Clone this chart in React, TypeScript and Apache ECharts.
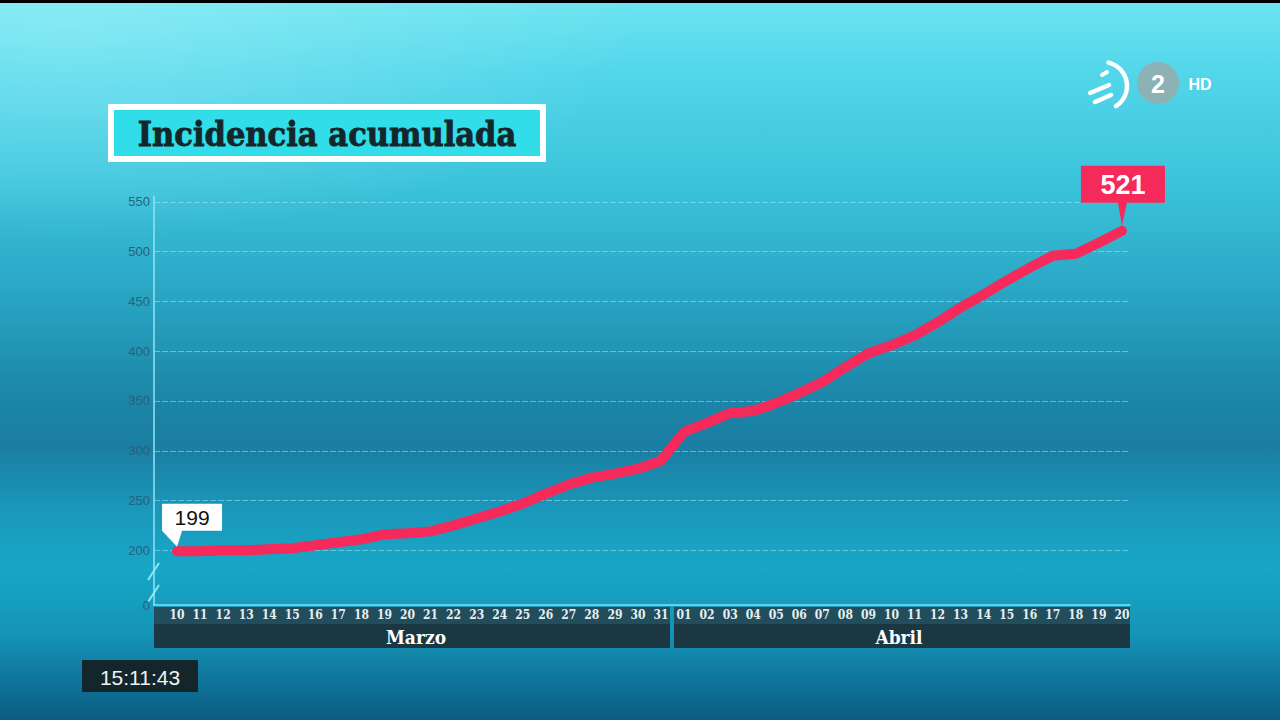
import React, { useEffect, useRef } from 'react';
import * as echarts from 'echarts';

// ---- data ----
const title = 'Incidencia acumulada';
const months = ['Marzo', 'Abril'];
const marzoDays = ['10', '11', '12', '13', '14', '15', '16', '17', '18', '19', '20', '21', '22', '23', '24', '25', '26', '27', '28', '29', '30', '31'];
const abrilDays = ['01', '02', '03', '04', '05', '06', '07', '08', '09', '10', '11', '12', '13', '14', '15', '16', '17', '18', '19', '20'];
const marzoValues = [199, 199, 200, 200, 201, 202, 205, 208, 211, 216, 217, 219, 225, 232, 239, 247, 257, 266, 273, 277, 282, 290];
const abrilValues = [319, 328, 338, 340, 348, 358, 369, 384, 398, 406, 416, 429, 444, 457, 471, 484, 496, 498, 509, 521];
const yTickValues = [200, 250, 300, 350, 400, 450, 500, 550];
const yZeroLabel = '0';
const clockText = '15:11:43';

// broken axis: the bottom of the plot stands for 0
const AXIS_FLOOR = 145;
const AXIS_TOP = 556;

const days = [...marzoDays, ...abrilDays];
const values = [...marzoValues, ...abrilValues];
const lineData = values.map((v, i) => [i, v]);
const lastIdx = values.length - 1;

const RED = '#f5295a';
const SLAB = '"DejaVu Serif Condensed", "DejaVu Serif"';

export default function App() {
  const ref = useRef<HTMLDivElement>(null);

  useEffect(() => {
    document.body.style.margin = '0';
    const chart = echarts.init(ref.current!, undefined, { renderer: 'svg' });

    const callout199 = 'path://M0,0 L60,0 L60,27 L20,27 L15,43 L0,27 Z';
    const callout521 = 'path://M0,0 L84,0 L84,37 L46,37 L41,60 L37,37 L0,37 Z';

    chart.setOption({
      animation: false,
      backgroundColor: 'transparent',
      grid: { left: 154, right: 150, top: 196, bottom: 115 },
      xAxis: {
        type: 'value',
        min: -1,
        max: lastIdx + 0.35,
        interval: 1,
        z: 5,
        axisLine: { show: true, onZero: false, lineStyle: { color: '#86e2f0', width: 1.5 } },
        axisTick: { show: false },
        splitLine: { show: false },
        axisLabel: {
          margin: 4,
          color: '#e6f0f2',
          fontSize: 12,
          fontWeight: 'bold',
          fontFamily: SLAB,
          showMinLabel: false,
          showMaxLabel: false,
          formatter: (v: number) => (Number.isInteger(v) && v >= 0 && v <= lastIdx ? days[v] : ''),
        },
      },
      yAxis: {
        type: 'value',
        min: AXIS_FLOOR,
        max: AXIS_TOP,
        axisLine: { show: true, onZero: false, lineStyle: { color: '#8fe6f2', width: 1.5 } },
        axisTick: { show: false },
        splitLine: { show: false },
        axisLabel: {
          customValues: [AXIS_FLOOR, ...yTickValues],
          margin: 4,
          color: '#29617a',
          fontSize: 13,
          fontFamily: '"Liberation Sans Narrow", "Liberation Sans"',
          formatter: (v: number) => (v === AXIS_FLOOR ? yZeroLabel : String(v)),
        },
      },
      series: [
        {
          type: 'line',
          data: lineData,
          showSymbol: false,
          symbol: 'none',
          z: 10,
          lineStyle: { color: RED, width: 10, cap: 'round', join: 'round' },
          markLine: {
            silent: true,
            symbol: 'none',
            z: 1,
            label: { show: false },
            lineStyle: { color: 'rgba(170,235,248,0.5)', width: 1, type: [6, 2] },
            data: yTickValues.map((v) => ({ yAxis: v })),
          },
          markPoint: {
            z: 20,
            data: [
              {
                coord: [0, values[0]],
                value: values[0],
                symbol: callout199,
                symbolSize: [60, 43],
                symbolOffset: [15, -26],
                itemStyle: { color: '#ffffff' },
                label: {
                  show: true,
                  offset: [0, -8],
                  color: '#111111',
                  fontSize: 21,
                  fontFamily: '"Liberation Sans Narrow", "Liberation Sans"',
                  formatter: '{c}',
                },
              },
              {
                coord: [lastIdx, values[lastIdx]],
                value: values[lastIdx],
                symbol: callout521,
                symbolSize: [84, 60],
                symbolOffset: [1, -35],
                itemStyle: { color: RED },
                label: {
                  show: true,
                  offset: [0, -11],
                  color: '#ffffff',
                  fontSize: 27,
                  fontWeight: 'bold',
                  fontFamily: '"Liberation Sans Narrow", "Liberation Sans"',
                  formatter: '{c}',
                },
              },
            ],
          },
        },
      ],
      graphic: [
        { type: 'rect', shape: { x: 0, y: 0, width: 1280, height: 3 }, style: { fill: '#000000' } },
        // title
        { type: 'rect', shape: { x: 108, y: 104, width: 438, height: 58 }, style: { fill: '#ffffff' } },
        { type: 'rect', shape: { x: 114, y: 110, width: 426, height: 46 }, style: { fill: '#31dde8' } },
        {
          type: 'text', x: 327, y: 134,
          style: { text: title, fill: '#13262a', stroke: '#13262a', lineWidth: 0.8, font: `bold 34px ${SLAB}`, textAlign: 'center', textVerticalAlign: 'middle' },
        },
        // month bands
        { type: 'rect', z: 1, shape: { x: 154, y: 607, width: 516, height: 17 }, style: { fill: '#214d5c' } },
        { type: 'rect', z: 1, shape: { x: 154, y: 624, width: 516, height: 24 }, style: { fill: '#1b3742' } },
        { type: 'rect', z: 1, shape: { x: 674, y: 607, width: 456, height: 17 }, style: { fill: '#214d5c' } },
        { type: 'rect', z: 1, shape: { x: 674, y: 624, width: 456, height: 24 }, style: { fill: '#1b3742' } },
        {
          type: 'text', z: 2, x: 416, y: 637,
          style: { text: months[0], fill: '#ffffff', font: `bold 19px ${SLAB}`, textAlign: 'center', textVerticalAlign: 'middle' },
        },
        {
          type: 'text', z: 2, x: 899, y: 637,
          style: { text: months[1], fill: '#ffffff', font: `bold 19px ${SLAB}`, textAlign: 'center', textVerticalAlign: 'middle' },
        },
        // axis break marks
        { type: 'line', shape: { x1: 159, y1: 563, x2: 148, y2: 580 }, style: { stroke: '#8fe6f2', lineWidth: 2 } },
        { type: 'line', shape: { x1: 159, y1: 585, x2: 148, y2: 602 }, style: { stroke: '#8fe6f2', lineWidth: 2 } },
        // logo
        { type: 'arc', shape: { cx: 1103, cy: 86, r: 24, startAngle: -1.34, endAngle: 1.0, clockwise: true }, style: { stroke: '#ffffff', lineWidth: 4.5, lineCap: 'round', fill: 'none' } },
        { type: 'line', shape: { x1: 1090, y1: 93, x2: 1109, y2: 85 }, style: { stroke: '#ffffff', lineWidth: 4.5, lineCap: 'round' } },
        { type: 'line', shape: { x1: 1095, y1: 102, x2: 1111, y2: 95 }, style: { stroke: '#ffffff', lineWidth: 4.5, lineCap: 'round' } },
        { type: 'line', shape: { x1: 1102, y1: 75, x2: 1107, y2: 72 }, style: { stroke: '#ffffff', lineWidth: 4, lineCap: 'round' } },
        { type: 'circle', shape: { cx: 1158, cy: 83, r: 21 }, style: { fill: 'rgba(150,172,172,0.85)' } },
        {
          type: 'text', x: 1158, y: 84,
          style: { text: '2', fill: '#ffffff', font: 'bold 25px "Liberation Sans"', textAlign: 'center', textVerticalAlign: 'middle' },
        },
        {
          type: 'text', x: 1200, y: 84,
          style: { text: 'HD', fill: '#ffffff', font: 'bold 16px "Liberation Sans"', textAlign: 'center', textVerticalAlign: 'middle' },
        },
        // clock
        { type: 'rect', shape: { x: 82, y: 660, width: 116, height: 32 }, style: { fill: '#13262b' } },
        {
          type: 'text', x: 140, y: 677,
          style: { text: clockText, fill: '#f2f2f2', font: '21px "Liberation Sans Narrow", "Liberation Sans"', textAlign: 'center', textVerticalAlign: 'middle' },
        },
      ],
    });

    return () => chart.dispose();
  }, []);

  return (
    <div
      ref={ref}
      style={{
        position: 'fixed',
        left: 0,
        top: 0,
        width: 1280,
        height: 720,
        background:
          'radial-gradient(ellipse 45% 30% at 5% 3%, rgba(170,245,250,0.45), rgba(170,245,250,0) 100%),' +
          'linear-gradient(to bottom, #6ee4f0 0%, #52d6ea 10%, #3cc4dc 25%, #2aa7c5 40%, #1c86a8 55%, #1a7ea2 62%, #1a98bb 71%, #17a7c7 79%, #1494b6 88%, #0f7298 95%, #0c5c82 100%)',
      }}
    />
  );
}
